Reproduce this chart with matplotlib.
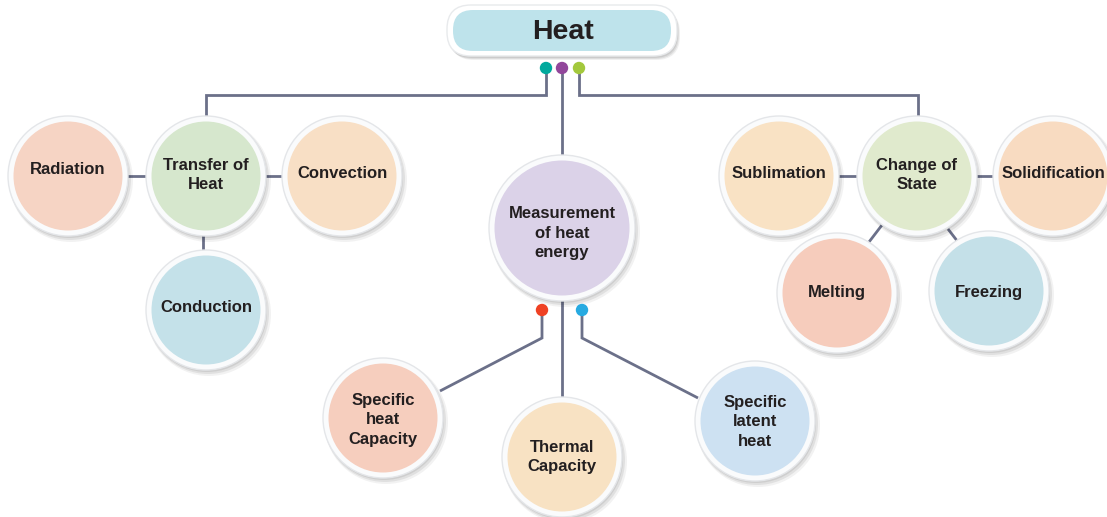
import matplotlib
matplotlib.use("Agg")
import matplotlib.pyplot as plt
from matplotlib.patches import Circle, FancyBboxPatch

# ---- content ----
title = "Heat"
node_labels = ["Radiation", "Transfer of\nHeat", "Convection", "Conduction",
               "Measurement\nof heat\nenergy",
               "Specific\nheat\nCapacity", "Thermal\nCapacity", "Specific\nlatent\nheat",
               "Sublimation", "Change of\nState", "Solidification", "Melting", "Freezing"]
node_colors = ["#f6d4c4", "#d6e7cd", "#f8dfc5", "#c4e1e9",
               "#dbd2e8",
               "#f6cebe", "#f8e2c3", "#cde1f2",
               "#f9e2c4", "#e0eacd", "#f8dbc1", "#f6ccbc", "#c4e0e8"]

# ---- layout (pixel space) ----
centers = [(68, 176), (206, 176), (342, 176), (206, 310),
           (562, 228),
           (383, 418), (562, 457), (755, 421),
           (779, 176), (917, 176), (1053, 176), (837, 293), (989, 291)]
radii = [60, 60, 60, 60, 73, 60, 60, 60, 60, 60, 60, 60, 60]
text_dy = [-6, -1, -2, -2, 5, 2, 0, 1, -3, -1, -3, -1, 1]

LINE = "#6b7089"
W, H = 1107, 517
fig = plt.figure(figsize=(W / 100, H / 100), dpi=100)
ax = fig.add_axes([0, 0, 1, 1])
ax.set_xlim(0, W)
ax.set_ylim(H, 0)
ax.set_aspect("equal")
ax.axis("off")

def seg(pts, lw=2.0):
    xs, ys = zip(*pts)
    ax.plot(xs, ys, color=LINE, lw=lw, solid_capstyle="butt", solid_joinstyle="miter", zorder=1)

# connectors from title
seg([(546, 68), (546, 95), (206, 95), (206, 120)])
seg([(562, 68), (562, 158)])
seg([(579, 68), (579, 95), (918, 95), (918, 120)])
# measurement children
seg([(542, 310), (542, 338), (440, 391)])
seg([(562, 300), (562, 400)])
seg([(582, 310), (582, 338), (698, 398)])
# short connectors
seg([(126, 176), (148, 176)])
seg([(264, 176), (284, 176)])
seg([(203, 234), (203, 252)])
seg([(838, 176), (859, 176)])
seg([(975, 176), (995, 176)])
seg([(882, 225), (869, 242)])
seg([(948, 229), (958, 242)])

# title box
for dx, dy, a in [(3, 4, 0.06), (2, 3, 0.08), (1, 2, 0.08)]:
    ax.add_patch(FancyBboxPatch((447 + dx, 5 + dy), 230, 51,
                                boxstyle="round,pad=0,rounding_size=24",
                                fc="#000000", ec="none", alpha=a, zorder=2))
ax.add_patch(FancyBboxPatch((447, 5), 230, 51, boxstyle="round,pad=0,rounding_size=24",
                            fc="white", ec="#e8eaec", lw=1, zorder=3))
ax.add_patch(FancyBboxPatch((453, 10), 218, 41, boxstyle="round,pad=0,rounding_size=20",
                            fc="#bee3eb", ec="none", zorder=4))
ax.text(563, 32, title, ha="center", va="center", fontsize=20.5, fontweight="bold",
        family="Liberation Sans", color="#231f20", zorder=5)

# dots
dot_pos = [(546, 68), (562, 68), (579, 68), (542, 310), (582, 310)]
dot_cols = ["#00a99d", "#92479b", "#a3c83c", "#ef4123", "#27aae1"]
for (x, y), c in zip(dot_pos, dot_cols):
    ax.add_patch(Circle((x, y), 6.2, fc=c, ec="none", zorder=6))

# nodes
for (x, y), r, lab, col, dy in zip(centers, radii, node_labels, node_colors, text_dy):
    for sx, sy, a, rr in [(3, 4, 0.05, r + 2), (2, 3, 0.07, r + 1), (1, 2, 0.08, r)]:
        ax.add_patch(Circle((x + sx, y + sy), rr, fc="#000000", ec="none", alpha=a, zorder=2))
    ax.add_patch(Circle((x, y), r, fc="#fafbfc", ec="#e4e6e9", lw=1, zorder=3))
    ax.add_patch(Circle((x, y), r - 5.5, fc=col, ec="none", zorder=4))
    ax.text(x, y + dy, lab, ha="center", va="center", fontsize=12, fontweight="bold",
            family="Liberation Sans", color="#231f20", linespacing=1.38, zorder=5)

fig.savefig("out.png", dpi=100)
